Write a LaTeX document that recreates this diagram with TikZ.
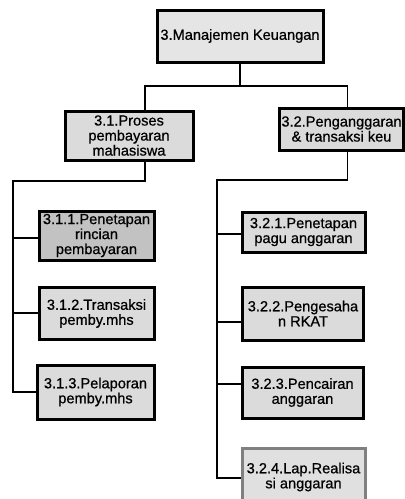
\documentclass[tikz,border=0pt]{standalone}
\usepackage{fontspec}
\setmainfont{Liberation Sans}
\newfontfamily\boxfont{Liberation Sans}[FakeBold=0.7]
\begin{document}
\begin{tikzpicture}[x=1pt,y=-1pt,
  box/.style={draw=black, line width=3pt, fill=black!14, align=center,
    inner sep=0pt, font=\boxfont\fontsize{14.6}{15}\selectfont},
  link/.style={draw=black, line width=1.8pt, line join=miter}]
  \useasboundingbox (0,0) rectangle (405,499);
  \clip (0,0) rectangle (405,499);

  % top level
  \node[box, fill=black!10, minimum width=166pt, minimum height=52pt] (top) at (240,36) {3.Manajemen Keuangan};

  % second level
  \node[box, minimum width=128pt, minimum height=49pt] (b31) at (129,135.5) {3.1.Proses\\pembayaran\\mahasiswa};
  \node[box, minimum width=124pt, minimum height=42pt] (b32) at (341.5,129) {3.2.Penganggaran\\\& transaksi keu};

  % left branch
  \node[box, fill=black!24, minimum width=115pt, minimum height=49pt] (b311) at (96.5,235.5) {3.1.1.Penetapan\\rincian\\pembayaran};
  \node[box, minimum width=115pt, minimum height=52pt] (b312) at (96.5,313.5) {3.1.2.Transaksi\\pemby.mhs};
  \node[box, minimum width=117pt, minimum height=54pt] (b313) at (95.5,392) {3.1.3.Pelaporan\\pemby.mhs};

  % right branch
  \node[box, minimum width=123pt, minimum height=40pt] (b321) at (303.5,232) {3.2.1.Penetapan\\pagu anggaran};
  \node[box, minimum width=121pt, minimum height=53pt] (b322) at (303,313.5) {3.2.2.Pengesaha\\n RKAT};
  \node[box, minimum width=121pt, minimum height=51pt] (b323) at (302.5,392.5) {3.2.3.Pencairan\\anggaran};
  \node[box, draw=black!50, fill=black!12, minimum width=123pt, minimum height=58pt] (b324) at (303.5,477) {3.2.4.Lap.Realisa\\si anggaran};

  % junction points of the tree
  \coordinate (barY) at (0,86);
  \coordinate (dL) at (145,0);
  \coordinate (dR) at (347.5,0);
  \coordinate (spL) at (13,181);
  \coordinate (spR) at (217,180);

  % top to second level
  \draw[link] (top.south) -- (top.south |- barY);
  \draw[link] (b31.north -| dL) -- (dL |- barY) -- (dR |- barY) -- (b32.north -| dR);

  % left tree
  \draw[link] (b31.south -| dL) -- (dL |- spL) -- (spL) -- (spL |- b313.west) -- (b313.west);
  \draw[link] (spL |- 0,238) -- (b311.west |- 0,238);
  \draw[link] (spL |- 0,313) -- (b312.west |- 0,313);

  % right tree
  \draw[link] (b32.south -| dR) -- (dR |- spR) -- (spR) -- (spR |- 0,478) -- (b324.west |- 0,478);
  \draw[link] (spR |- 0,234) -- (b321.west |- 0,234);
  \draw[link] (spR |- 0,322) -- (b322.west |- 0,322);
  \draw[link] (spR |- 0,384) -- (b323.west |- 0,384);
\end{tikzpicture}
\end{document}
